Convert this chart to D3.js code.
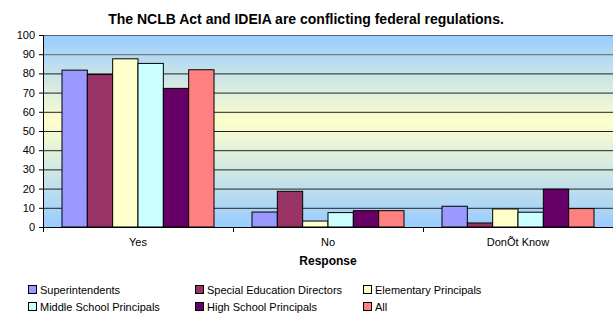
<!DOCTYPE html>
<html>
<head>
<meta charset="utf-8">
<script src="https://cdn.jsdelivr.net/npm/d3@7"></script>
<style>
  body { margin: 0; background: #fff; }
  svg { font-family: "Liberation Sans", Arial, sans-serif; }
</style>
</head>
<body>
<svg id="chart" width="613" height="317"></svg>
<script>
// chart data
const categories = ["Yes", "No", "DonÕt Know"];
const seriesNames = ["Superintendents", "Special Education Directors", "Elementary Principals",
  "Middle School Principals", "High School Principals", "All"];
const superintendents = [81.7, 7.8, 10.8];
const specialEd = [79.4, 18.6, 2.1];
const elementary = [87.6, 3.1, 9.4];
const middleSchool = [85.2, 7.5, 7.7];
const highSchool = [72.2, 8.5, 19.7];
const allResp = [81.9, 8.5, 9.6];
const yTicks = [0, 10, 20, 30, 40, 50, 60, 70, 80, 90, 100];
const colors = ["#9999FF", "#993366", "#FFFFCC", "#CCFFFF", "#660066", "#FF8080"];

const seriesValues = [superintendents, specialEd, elementary, middleSchool, highSchool, allResp];

const margin = { top: 35, right: 0, bottom: 90, left: 43 };
const width = 613 - margin.left - margin.right;
const height = 227 - margin.top;

const svg = d3.select("#chart");

// background gradient
const defs = svg.append("defs");
const grad = defs.append("linearGradient")
  .attr("id", "bg").attr("x1", 0).attr("y1", 0).attr("x2", 0).attr("y2", 1);
grad.append("stop").attr("offset", "0%").attr("stop-color", "#99CCFF");
grad.append("stop").attr("offset", "45%").attr("stop-color", "#FFFFCC");
grad.append("stop").attr("offset", "100%").attr("stop-color", "#99CCFF");

const g = svg.append("g").attr("transform", `translate(${margin.left},${margin.top})`);

const x0 = d3.scaleBand().domain(categories).range([0, width]).paddingInner(0).paddingOuter(0);
const x1 = d3.scaleBand().domain(seriesNames).range([0, x0.bandwidth()]).paddingInner(0).paddingOuter(0.75);
const y = d3.scaleLinear().domain([0, 100]).range([height, 0]);

g.append("rect").attr("x", 0).attr("y", 0).attr("width", width).attr("height", height)
  .attr("fill", "url(#bg)");

// gridlines
g.append("g").selectAll("line").data(yTicks.slice(1)).join("line")
  .attr("x1", 0).attr("x2", width)
  .attr("y1", d => y(d) + 0.5).attr("y2", d => y(d) + 0.5)
  .attr("stroke", d => d >= 90 ? "#666" : "#222").attr("stroke-width", 1);

// bars
const groups = g.append("g").selectAll("g").data(categories).join("g")
  .attr("transform", d => `translate(${x0(d)},0)`);
groups.selectAll("rect")
  .data((c, ci) => seriesNames.map((s, si) => ({ s, si, v: seriesValues[si][ci] })))
  .join("rect")
  .attr("x", d => x1(d.s))
  .attr("y", d => y(d.v))
  .attr("width", x1.bandwidth())
  .attr("height", d => y(0) - y(d.v))
  .attr("fill", d => colors[d.si])
  .attr("stroke", "#000").attr("stroke-width", 1);

// y axis
const yAxis = g.append("g")
  .call(d3.axisLeft(y).tickValues(yTicks).tickSize(4).tickPadding(4));
yAxis.select(".domain").attr("stroke", "#000");
yAxis.selectAll("line").attr("stroke", "#000");
yAxis.selectAll("text").style("font-size", "11px").attr("fill", "#000");

// x axis
const xAxis = g.append("g").attr("transform", `translate(0,${height})`);
xAxis.append("line").attr("x1", 0).attr("x2", width).attr("y1", 0.5).attr("y2", 0.5).attr("stroke", "#000");
xAxis.selectAll(".tk").data(d3.range(categories.length + 1)).join("line")
  .attr("x1", i => i * x0.bandwidth() + 0.5).attr("x2", i => i * x0.bandwidth() + 0.5)
  .attr("y1", 0).attr("y2", 5).attr("stroke", "#000");
xAxis.selectAll("text").data(categories).join("text")
  .attr("x", d => x0(d) + x0.bandwidth() / 2)
  .attr("y", 19)
  .attr("text-anchor", "middle")
  .style("font-size", "11px")
  .text(d => d);

// title and axis title
svg.append("text").attr("x", 306).attr("y", 24).attr("text-anchor", "middle")
  .style("font-size", "14px").style("font-weight", "bold")
  .text("The NCLB Act and IDEIA  are conflicting federal regulations.");
svg.append("text").attr("x", margin.left + width / 2).attr("y", 265).attr("text-anchor", "middle")
  .style("font-size", "12px").style("font-weight", "bold")
  .text("Response");

// legend
const legendX = [28, 195, 363];
const legendY = [294, 311];
const legend = svg.append("g").selectAll("g").data(seriesNames).join("g")
  .attr("transform", (d, i) => `translate(${legendX[i % 3]},${legendY[Math.floor(i / 3)]})`);
legend.append("rect").attr("x", 0.5).attr("y", -8.5).attr("width", 8).attr("height", 8)
  .attr("fill", (d, i) => colors[i]).attr("stroke", "#000");
legend.append("text").attr("x", 12).attr("y", 0)
  .style("font-size", "11px").text(d => d);
</script>
</body>
</html>
